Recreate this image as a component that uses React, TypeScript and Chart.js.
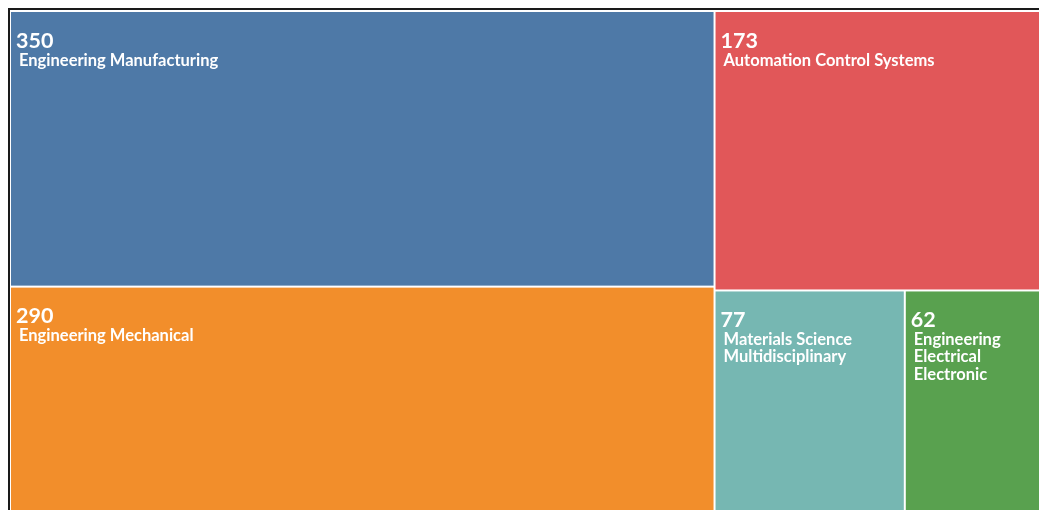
import React, { useEffect, useRef } from "react";
import { Chart, registerables } from "chart.js";

Chart.register(...registerables);

const categories = [
  "Engineering Manufacturing",
  "Engineering Mechanical",
  "Automation Control Systems",
  "Materials Science Multidisciplinary",
  "Engineering Electrical Electronic",
];
const values = [350, 290, 173, 77, 62];
const palette = ["#4E79A7", "#F28E2B", "#E15759", "#76B7B2", "#59A14F"];

type Cell = { i: number; x0: number; y0: number; x1: number; y1: number };

// d3-style squarified treemap (golden ratio) in data space
function squarify(vals: number[], x0: number, y0: number, x1: number, y1: number): Cell[] {
  const ratio = (1 + Math.sqrt(5)) / 2;
  const idx = vals.map((_, i) => i).sort((a, b) => vals[b] - vals[a]);
  const out: Cell[] = [];
  let value = idx.reduce((s, i) => s + vals[i], 0);
  let i0 = 0;
  let i1 = 0;
  const n = idx.length;
  while (i0 < n) {
    const dx = x1 - x0;
    const dy = y1 - y0;
    let sum = vals[idx[i1++]];
    let minV = sum;
    let maxV = sum;
    const alpha = Math.max(dy / dx, dx / dy) / (value * ratio);
    let beta = sum * sum * alpha;
    let minRatio = Math.max(maxV / beta, beta / minV);
    for (; i1 < n; ++i1) {
      const nv = vals[idx[i1]];
      sum += nv;
      if (nv < minV) minV = nv;
      if (nv > maxV) maxV = nv;
      beta = sum * sum * alpha;
      const nr = Math.max(maxV / beta, beta / minV);
      if (nr > minRatio) {
        sum -= nv;
        break;
      }
      minRatio = nr;
    }
    const row = idx.slice(i0, i1);
    if (dx < dy) {
      const ny = y0 + (dy * sum) / value;
      let cx = x0;
      for (const k of row) {
        const w = ((x1 - x0) * vals[k]) / sum;
        out.push({ i: k, x0: cx, y0: y0, x1: cx + w, y1: ny });
        cx += w;
      }
      y0 = ny;
    } else {
      const nx = x0 + (dx * sum) / value;
      let cy = y0;
      for (const k of row) {
        const h = ((y1 - y0) * vals[k]) / sum;
        out.push({ i: k, x0: x0, y0: cy, x1: nx, y1: cy + h });
        cy += h;
      }
      x0 = nx;
    }
    value -= sum;
    i0 = i1;
  }
  return out;
}

function wrapText(ctx: CanvasRenderingContext2D, text: string, maxWidth: number): string[] {
  const words = text.split(" ");
  const lines: string[] = [];
  let cur = "";
  for (const w of words) {
    const test = cur ? cur + " " + w : w;
    if (cur && ctx.measureText(test).width > maxWidth) {
      lines.push(cur);
      cur = w;
    } else {
      cur = test;
    }
  }
  if (cur) lines.push(cur);
  return lines;
}

const treemapPlugin = {
  id: "treemapCells",
  afterDatasetsDraw(chart: any) {
    const { ctx, chartArea, scales } = chart;
    const xs = scales.x;
    const ys = scales.y;
    const aspect = chartArea.width / chartArea.height;
    const cells = squarify(values, 0, 0, aspect, 1);
    ctx.save();
    for (const c of cells) {
      const px0 = xs.getPixelForValue(c.x0 / aspect);
      const px1 = xs.getPixelForValue(c.x1 / aspect);
      const py0 = ys.getPixelForValue(c.y0);
      const py1 = ys.getPixelForValue(c.y1);
      ctx.fillStyle = palette[c.i % palette.length];
      ctx.fillRect(px0 + 1, py0 + 1, px1 - px0 - 2, py1 - py0 - 2);

      ctx.save();
      ctx.beginPath();
      ctx.rect(px0 + 1, py0 + 1, px1 - px0 - 2, py1 - py0 - 2);
      ctx.clip();
      ctx.fillStyle = "#ffffff";
      ctx.textBaseline = "alphabetic";
      ctx.textAlign = "left";
      ctx.font = "bold 21.5px Lato";
      ctx.fillText(String(values[c.i]), px0 + 6, py0 + 36.5);
      ctx.font = "bold 16.5px Lato";
      const lines = wrapText(ctx, categories[c.i], px1 - px0 - 18);
      lines.forEach((ln, k) => {
        ctx.fillText(ln, px0 + 9, py0 + 54.5 + k * 17.5);
      });
      ctx.restore();
    }
    ctx.restore();
  },
};

export default function App() {
  const ref = useRef<HTMLCanvasElement | null>(null);
  useEffect(() => {
    if (!ref.current) return;
    const chart = new Chart(ref.current, {
      type: "scatter",
      data: { datasets: [{ label: "cells", data: [], pointRadius: 0 }] },
      options: {
        animation: false,
        responsive: false,
        layout: { padding: { top: 1, left: 0, right: 0, bottom: 0 } },
        plugins: { legend: { display: false }, tooltip: { enabled: false } },
        scales: {
          x: { type: "linear", min: 0, max: 1, display: false },
          y: { type: "linear", min: 0, max: 1, reverse: true, display: false },
        },
      },
      plugins: [treemapPlugin],
    });
    return () => chart.destroy();
  }, []);
  return (
    <div style={{ position: "fixed", left: 8, top: 8, right: 0, bottom: 0, overflow: "hidden" }}>
      <div style={{ border: "2px solid #1a1a1a", width: 1048, height: 505, boxSizing: "content-box" }}>
        <canvas ref={ref} width={1048} height={505} style={{ display: "block" }} />
      </div>
    </div>
  );
}
